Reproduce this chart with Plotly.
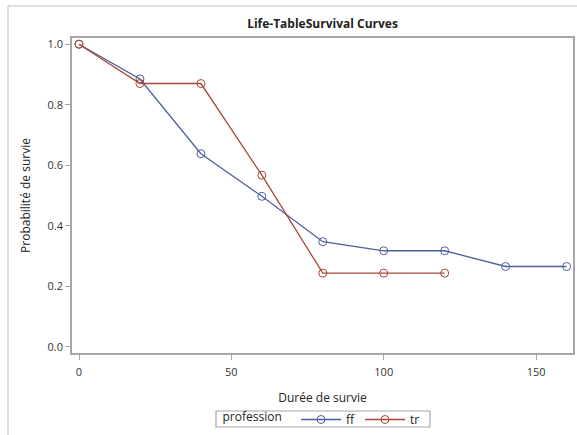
import plotly.graph_objects as go

time_ff = [0, 20, 40, 60, 80, 100, 120, 140, 160]
surv_ff = [1.0, 0.885, 0.638, 0.497, 0.347, 0.317, 0.317, 0.265, 0.265]
time_tr = [0, 20, 40, 60, 80, 100, 120]
surv_tr = [1.0, 0.870, 0.870, 0.567, 0.243, 0.243, 0.243]
x_ticks = [0, 50, 100, 150]
y_ticks = [0.0, 0.2, 0.4, 0.6, 0.8, 1.0]

BLUE = "#4E5F9C"
RED = "#A8463A"
FRAME = "#A6A6A6"
FONT = "Open Sans, Noto Sans, sans-serif"

W, H = 577, 435
L, R, T, B = 72, 4, 38, 82
PW, PH = W - L - R, H - T - B


def px(x):
    return (x - L) / PW


def py(y):
    return (H - B - y) / PH


fig = go.Figure()
fig.add_trace(go.Scatter(x=time_ff, y=surv_ff, mode="lines+markers", name="ff",
                         line=dict(color=BLUE, width=1.3),
                         marker=dict(symbol="circle-open", size=8, color=BLUE, line=dict(width=1))))
fig.add_trace(go.Scatter(x=time_tr, y=surv_tr, mode="lines+markers", name="tr",
                         line=dict(color=RED, width=1.3),
                         marker=dict(symbol="circle-open", size=8, color=RED, line=dict(width=1))))

axis_common = dict(showline=True, linecolor=FRAME, linewidth=1.5, mirror=True,
                   ticks="outside", ticklen=5, tickcolor=FRAME, tickwidth=1,
                   showgrid=False, zeroline=False,
                   tickfont=dict(size=11, color="#333333", family=FONT))

fig.update_layout(
    width=W, height=H,
    margin=dict(l=L, r=R, t=T, b=B, autoexpand=False),
    paper_bgcolor="white", plot_bgcolor="white",
    font=dict(family=FONT, color="#222222"),
    title=dict(text="<b>Life-TableSurvival Curves</b>", x=0.5, xref="paper", xanchor="center",
               y=1 - 24 / H, yanchor="middle", font=dict(size=12, color="#222222", family=FONT)),
    xaxis=dict(range=[-2.3, 162.1], tickvals=x_ticks, ticktext=[str(v) for v in x_ticks],
               ticklabelstandoff=3,
               title=dict(text="Durée de survie", font=dict(size=12, family=FONT, color="#222222"), standoff=16),
               **axis_common),
    yaxis=dict(range=[-0.021, 1.0205], tickvals=y_ticks, ticktext=[f"{v:.1f}" for v in y_ticks],
               title=dict(text="Probabilité de survie", font=dict(size=12, family=FONT, color="#222222"), standoff=14),
               **axis_common),
    legend=dict(orientation="h", x=0.5, xanchor="center", y=py(434), yanchor="bottom",
                borderwidth=0, bgcolor="rgba(0,0,0,0)",
                title=dict(text="profession  ", side="left", font=dict(size=12, family=FONT, color="#222222")),
                font=dict(size=12, family=FONT, color="#222222"),
                itemwidth=40, tracegroupgap=0),
    showlegend=True,
    shapes=[
        dict(type="line", xref="paper", yref="paper", x0=px(8), x1=1.2,
             y0=py(6), y1=py(6), line=dict(color="#D3D3D3", width=1.5)),
        dict(type="line", xref="paper", yref="paper", x0=px(8), x1=px(8),
             y0=py(6), y1=-0.5, line=dict(color="#D3D3D3", width=1.5)),
        dict(type="rect", xref="paper", yref="paper", x0=px(216), x1=px(430),
             y0=py(427), y1=py(411), line=dict(color=FRAME, width=1.2), fillcolor="rgba(0,0,0,0)"),
    ],
)

fig.write_html("out.html", config={"displayModeBar": False},
               post_script="document.body.style.margin='0';document.body.style.overflow='hidden';")
